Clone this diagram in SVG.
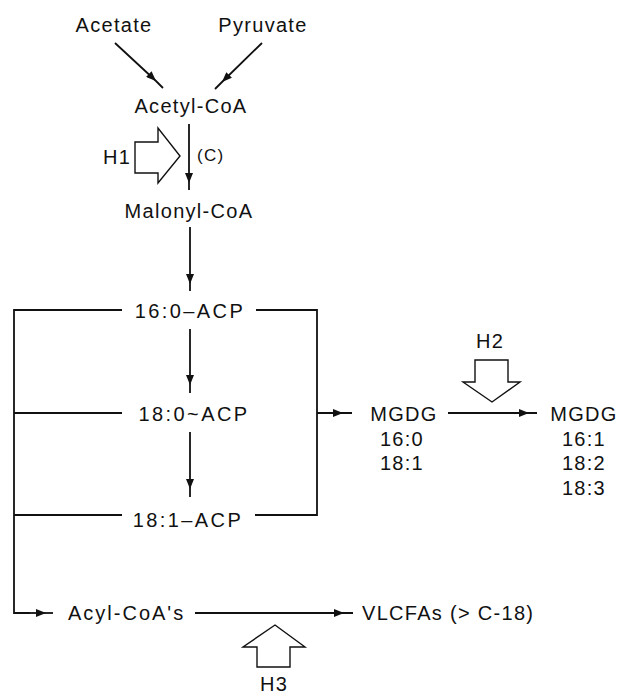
<svg xmlns="http://www.w3.org/2000/svg" width="619" height="694" viewBox="0 0 619 694">
<style>
text{font-family:"Liberation Sans",Arial,sans-serif;font-size:20px;fill:#111;letter-spacing:1.3px}
.m{text-anchor:middle}
.acp{letter-spacing:2.4px}
.ln{fill:none;stroke:#111;stroke-width:1.8}
.ar{fill:none;stroke:#111;stroke-width:1.8;marker-mid:url(#ah)}
.blk{fill:#fff;stroke:#111;stroke-width:1.4;stroke-linejoin:miter}
</style>
<defs>
<marker id="ah" viewBox="0 0 10 8" refX="10" refY="4" markerWidth="10" markerHeight="8" markerUnits="userSpaceOnUse" orient="auto">
<path d="M0,0 L10,4 L0,8 Z" fill="#111"/>
</marker>
</defs>
<rect width="619" height="694" fill="#fff"/>
<g id="connectors">
<path class="ar" d="M115,43 L156,81 L163,88"/>
<path class="ar" d="M262,43 L222,82 L215,89"/>
<path class="ar" d="M189,124 L189,183 L189,190"/>
<path class="ar" d="M190,227 L190,284 L190,291"/>
<path class="ar" d="M190,329 L190,385 L190,393"/>
<path class="ar" d="M190,432 L190,489 L190,497"/>
<path class="ln" d="M122,310 H14 V613 H30 M14,413 H122 M14,515 H122"/>
<path class="ar" d="M30,613 L46,613 L53,613"/>
<path class="ln" d="M256,310 H317 V515 H255"/>
<path class="ar" d="M317,413 L343,413 L352,413"/>
<path class="ar" d="M448,413 L529,413 L537,413"/>
<path class="ar" d="M195,613 L344,613 L353,613"/>
</g>
<g id="acetate"><text class="m" x="114" y="32">Acetate</text></g>
<g id="pyruvate"><text class="m" x="263" y="32">Pyruvate</text></g>
<g id="acetyl-coa"><text class="m" x="191" y="113">Acetyl-CoA</text></g>
<g id="h1">
<polygon class="blk" points="135,142 158,142 158,128 180,156 158,183 158,173 135,173"/>
<text x="103" y="164">H1</text>
</g>
<g id="c-label"><text x="197" y="161" style="font-size:17px">(C)</text></g>
<g id="malonyl-coa"><text class="m" x="189" y="218">Malonyl-CoA</text></g>
<g id="acp160"><text class="m acp" x="190" y="318">16:0–ACP</text></g>
<g id="acp180"><text class="m acp" x="194" y="421">18:0~ACP</text></g>
<g id="acp181"><text class="m acp" x="188" y="527">18:1–ACP</text></g>
<g id="mgdg1">
<text class="m" x="404" y="421">MGDG</text>
<text class="m" x="402" y="446">16:0</text>
<text class="m" x="402" y="470">18:1</text>
</g>
<g id="h2">
<text class="m" x="490" y="348">H2</text>
<polygon class="blk" points="475,360 508,360 508,382 520,382 492,402 463,382 475,382"/>
</g>
<g id="mgdg2">
<text class="m" x="584" y="421">MGDG</text>
<text class="m" x="584" y="446">16:1</text>
<text class="m" x="584" y="470">18:2</text>
<text class="m" x="584" y="495">18:3</text>
</g>
<g id="acyl-coa"><text x="68" y="620" style="letter-spacing:2px">Acyl-CoA's</text></g>
<g id="vlcfas"><text x="362" y="620">VLCFAs (&gt; C-18)</text></g>
<g id="h3">
<polygon class="blk" points="275,625 305,647 290,647 290,667 257,667 257,647 243,647"/>
<text class="m" x="274" y="691">H3</text>
</g>
</svg>
